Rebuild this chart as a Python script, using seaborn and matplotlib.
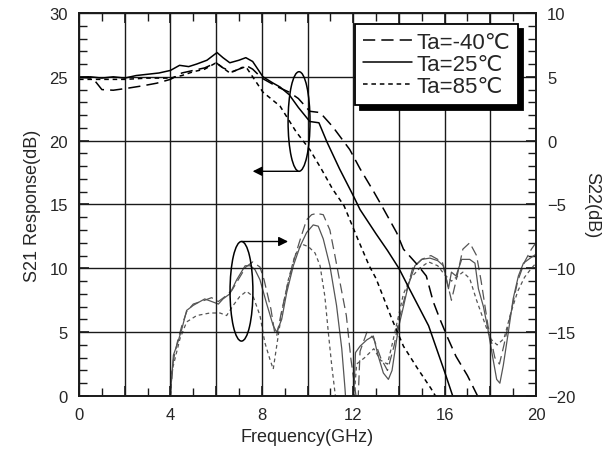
import matplotlib
matplotlib.use('Agg')
import matplotlib.pyplot as plt
from matplotlib.patches import Ellipse
from matplotlib.ticker import MultipleLocator
import seaborn as sns

# S21 response (left axis, dB)
freq_s21_25 = [0, 0.5, 1, 1.5, 2, 2.5, 3, 3.5, 4, 4.4, 4.8, 5.15, 5.6, 6.04, 6.3, 6.6, 7.0, 7.3, 7.6,
               8.05, 8.5, 8.8, 9.2, 9.6, 10.1, 10.5, 10.85, 11.4, 12.0, 12.3, 13.0, 13.5, 14.0, 14.4,
               14.85, 15.3, 15.65, 16.0, 16.3, 16.45]
s21_25 = [24.95, 25.0, 24.9, 25.0, 24.9, 25.1, 25.2, 25.3, 25.5, 25.9, 25.8, 26.0, 26.3, 26.9, 26.5,
          26.1, 26.3, 26.5, 26.2, 25.0, 24.5, 24.2, 23.6, 22.6, 21.5, 21.4, 19.9, 17.8, 15.7, 14.6,
          12.7, 11.4, 10.0, 8.6, 7.05, 5.5, 3.7, 1.9, 0.3, -0.5]

freq_s21_m40 = [0, 0.6, 1.0, 1.5, 2.1, 2.8, 3.4, 4.0, 4.5, 5.0, 5.5, 6.0, 6.3, 6.7, 7.0, 7.3, 7.6, 8.0,
                8.7, 9.2, 9.6, 10.1, 10.55, 11.1, 11.85, 12.3, 12.9, 13.25, 13.9, 14.2, 14.8, 15.2,
                15.5, 15.8, 16.15, 16.5, 17.0, 17.5]
s21_m40 = [24.95, 24.9, 24.0, 23.95, 24.1, 24.3, 24.5, 24.8, 25.3, 25.5, 25.7, 26.1, 25.7, 25.4,
           25.6, 25.9, 25.6, 24.9, 24.2, 23.8, 23.3, 22.3, 22.2, 21.1, 19.3, 17.8, 16.0, 14.9, 12.8,
           11.5, 10.3, 9.4, 7.4, 6.0, 4.5, 3.1, 1.6, -0.2]

freq_s21_85 = [0, 1, 2, 3, 4, 4.5, 5.0, 5.5, 6.0, 6.3, 6.6, 7.0, 7.3, 7.6, 8.05, 8.8, 9.5, 10.1,
               10.6, 11.1, 11.6, 12.2, 12.7, 13.0, 13.7, 14.2, 14.8, 15.4, 15.7]
s21_85 = [24.8, 24.8, 24.8, 24.9, 24.9, 25.1, 25.4, 25.6, 26.1, 25.7, 25.3, 25.6, 25.8, 25.0, 23.8,
          22.7, 20.7, 19.3, 17.8, 16.2, 14.9, 12.3, 10.2, 9.2, 6.0, 3.9, 2.2, 0.6, -0.3]

# S22 (right axis, dB)
freq_s22_25 = [3.95, 4.13, 4.28, 4.5, 4.71, 5.0, 5.5, 5.73, 6.1, 6.3, 6.6, 6.9, 7.27, 7.5, 7.7, 7.92,
               8.2, 8.5, 8.65, 8.87, 9.09, 9.38, 9.67, 9.96, 10.25, 10.47, 10.69, 10.98, 11.27, 11.5,
               11.64, 11.7, 12.0, 12.1, 12.3, 12.6, 12.88, 13.1, 13.32, 13.54, 13.7, 13.9, 14.0, 14.2,
               14.4, 14.7, 15.0, 15.36, 15.7, 15.95, 16.17, 16.3, 16.5, 16.75, 17.1, 17.33, 17.48,
               17.7, 17.9, 18.1, 18.28, 18.42, 18.57, 18.79, 19.0, 19.23, 19.45, 19.75, 20.0]
s22_25 = [-21, -16.8, -16.05, -14.75, -13.3, -12.9, -12.4, -12.55, -12.8, -12.4, -12.0, -10.9, -9.8,
          -9.8, -10.1, -10.9, -12.7, -14.5, -15.0, -14.0, -11.9, -9.8, -8.3, -7.2, -6.6, -6.7, -7.7,
          -9.8, -12.9, -16.3, -19.4, -21, -21, -16.6, -16.1, -15.6, -15.3, -16.9, -18.2, -18.7, -18.0,
          -15.6, -14.5, -13.0, -11.4, -9.8, -9.3, -9.2, -9.4, -9.8, -11.6, -10.3, -10.6, -9.3, -9.3,
          -9.6, -11.6, -13.0, -14.8, -16.9, -18.7, -19.0, -17.6, -15.0, -12.4, -10.6, -9.6, -9.2, -8.9]

freq_s22_m40 = [3.95, 4.13, 4.3, 4.5, 4.71, 5.0, 5.5, 5.8, 6.1, 6.4, 6.7, 7.0, 7.3, 7.6, 7.92, 8.1,
                8.4, 8.56, 8.65, 8.85, 9.1, 9.38, 9.67, 9.96, 10.18, 10.4, 10.69, 10.98, 11.2, 11.4,
                11.7, 11.9, 12.1, 12.2, 12.3, 12.6, 12.9, 13.2, 13.5, 13.8, 14.0, 14.3, 14.6, 15.0,
                15.4, 15.9, 16.1, 16.3, 16.5, 16.8, 17.1, 17.4, 17.6, 17.9, 18.2, 18.4, 18.6, 18.9,
                19.2, 19.5, 19.8, 20.0]
s22_m40 = [-21, -17.2, -15.8, -14.5, -13.4, -12.8, -12.5, -12.3, -12.6, -12.2, -11.7, -10.8, -9.9,
           -9.5, -9.9, -10.9, -13.2, -15.0, -15.3, -13.5, -11.5, -9.5, -7.8, -6.2, -5.8, -5.7, -5.8,
           -7.0, -9.0, -10.9, -13.7, -17.1, -19.7, -21, -16.5, -15.0, -15.5, -17.0, -18.0, -16.0,
           -14.0, -12.0, -10.0, -9.3, -9.0, -9.5, -11.0, -12.5, -11.0, -8.5, -8.0, -9.0, -11.0, -14.5,
           -17.0, -17.5, -16.0, -13.5, -11.0, -9.5, -8.5, -8.0]

freq_s22_85 = [4.0, 4.06, 4.42, 4.71, 5.15, 5.73, 6.17, 6.46, 6.75, 7.04, 7.33, 7.62, 7.92, 8.13,
               8.35, 8.5, 8.65, 8.87, 9.16, 9.45, 9.74, 10.04, 10.33, 10.55, 10.76, 10.91, 11.06,
               11.2, 11.3, 12.0, 12.15, 12.5, 12.9, 13.2, 13.5, 13.7, 13.95, 14.2, 14.5, 14.9, 15.3,
               15.7, 16.0, 16.3, 16.8, 17.1, 17.4, 17.7, 18.0, 18.3, 18.6, 18.9, 19.2, 19.5, 19.8, 20.0]
s22_85 = [-21, -18.1, -15.5, -14.2, -13.7, -13.5, -13.5, -13.7, -12.9, -12.2, -11.8, -12.2, -13.7,
          -15.8, -17.1, -17.9, -16.1, -13.5, -10.9, -9.0, -8.1, -8.3, -8.8, -9.8, -12.2, -15.0, -17.6,
          -19.7, -21, -21, -17.5, -17.0, -16.3, -17.2, -17.5, -16.0, -14.0, -12.0, -10.8, -10.0, -9.5,
          -9.8, -10.5, -11.0, -10.3, -10.8, -12.5, -14.0, -15.5, -16.0, -15.5, -13.5, -11.8, -10.7,
          -10.0, -9.6]

temp_labels = ['Ta=-40\u2103', 'Ta=25\u2103', 'Ta=85\u2103']
xtick_vals = [0, 2, 4, 6, 8, 10, 12, 14, 16, 18, 20]
xtick_text = ['0', '', '4', '', '8', '', '12', '', '16', '', '20']

sns.set_style('ticks')
plt.rcParams['font.family'] = ['Liberation Sans', 'DejaVu Sans']
plt.rcParams['xtick.minor.visible'] = True
plt.rcParams['ytick.minor.visible'] = True

long_dash = (0, (8, 4))
short_dash = (0, (3, 2.5))

fig = plt.figure(figsize=(6.15, 4.6), dpi=100)
ax = fig.add_axes([0.1285, 0.137, 0.743, 0.8326])
ax2 = ax.twinx()

# S22 curves (right axis), thin grey
sns.lineplot(x=freq_s22_m40, y=s22_m40, ax=ax2, color='#555555', lw=0.9, linestyle=long_dash,
             errorbar=None, sort=False)
sns.lineplot(x=freq_s22_25, y=s22_25, ax=ax2, color='#555555', lw=0.9, linestyle='-',
             errorbar=None, sort=False)
sns.lineplot(x=freq_s22_85, y=s22_85, ax=ax2, color='#555555', lw=0.9, linestyle=short_dash,
             errorbar=None, sort=False)

# S21 curves (left axis), black
sns.lineplot(x=freq_s21_m40, y=s21_m40, ax=ax, color='black', lw=1.1, linestyle=long_dash,
             errorbar=None, sort=False, label=temp_labels[0])
sns.lineplot(x=freq_s21_25, y=s21_25, ax=ax, color='black', lw=1.1, linestyle='-',
             errorbar=None, sort=False, label=temp_labels[1])
sns.lineplot(x=freq_s21_85, y=s21_85, ax=ax, color='black', lw=1.1, linestyle=short_dash,
             errorbar=None, sort=False, label=temp_labels[2])

ax.set_xlim(0, 20)
ax.set_ylim(0, 30)
ax2.set_ylim(-20, 10)

ax.set_xticks(xtick_vals)
ax.set_xticklabels(xtick_text)
ax.xaxis.set_minor_locator(MultipleLocator(1))
ax.yaxis.set_major_locator(MultipleLocator(5))
ax.yaxis.set_minor_locator(MultipleLocator(1))
ax2.yaxis.set_major_locator(MultipleLocator(5))
ax2.yaxis.set_minor_locator(MultipleLocator(1))

ax.grid(True, which='major', color='#1a1a1a', lw=1.0)
ax.grid(False, which='minor')
for a in (ax, ax2):
    a.tick_params(which='both', direction='in', labelsize=12, color='#1a1a1a')
    a.tick_params(which='major', length=7, width=1.2, pad=8)
    a.tick_params(which='minor', length=6, width=1.0)
    for s in a.spines.values():
        s.set_linewidth(1.2)
        s.set_color('#1a1a1a')
ax.tick_params(which='both', top=True, right=False)
ax2.tick_params(which='both', right=True, left=False)

ax.set_xlabel('Frequency(GHz)', fontsize=13, labelpad=4)
ax.set_ylabel('S21 Response(dB)', fontsize=13, labelpad=6)
ax2.set_ylabel('S22(dB)', fontsize=13, rotation=270, labelpad=18)

# ellipses marking each group, with arrows pointing to its axis
ax.add_patch(Ellipse((9.63, 21.5), 0.96, 7.8, fill=False, color='black', lw=1.1, zorder=5))
ax.annotate('', xy=(7.6, 17.6), xytext=(9.58, 17.6),
            arrowprops=dict(arrowstyle='-|>', color='black', lw=1.0, mutation_scale=14,
                            shrinkA=0, shrinkB=0), zorder=5)
ax.add_patch(Ellipse((7.11, 8.2), 1.0, 7.8, fill=False, color='black', lw=1.1, zorder=5))
ax.annotate('', xy=(9.15, 12.1), xytext=(7.12, 12.1),
            arrowprops=dict(arrowstyle='-|>', color='black', lw=1.0, mutation_scale=14,
                            shrinkA=0, shrinkB=0), zorder=5)

ax.set_zorder(ax2.get_zorder() + 1)
ax.patch.set_visible(False)

handles, labels = ax.get_legend_handles_labels()
leg = ax.legend(handles, labels, loc='upper right', bbox_to_anchor=(0.9606, 0.971),
                borderaxespad=0, fontsize=16, frameon=True, fancybox=False,
                handlelength=2.2, handletextpad=0.2, labelspacing=0.05, borderpad=0.35,
                shadow={'color': 'black', 'alpha': 1, 'ox': 3.5, 'oy': -3.5})
leg.get_frame().set_edgecolor('black')
leg.get_frame().set_linewidth(1.3)
leg.get_frame().set_alpha(1)
leg.set_zorder(10)

fig.savefig('out.png', dpi=100)
